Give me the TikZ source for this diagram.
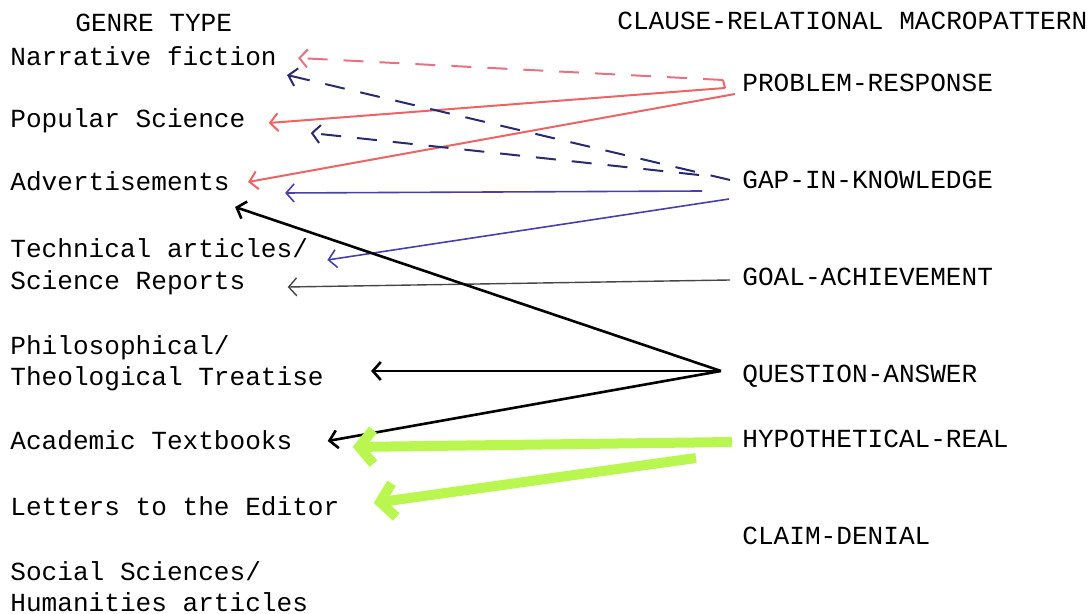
\documentclass[tikz,border=0pt]{standalone}
\usepackage{fontspec}
\setmonofont{Liberation Mono}
\usepackage{tikz}
\usetikzlibrary{calc,arrows.meta}

\definecolor{probred}{RGB}{238,100,100}
\definecolor{dashred}{RGB}{232,112,130}
\definecolor{gapnavy}{RGB}{42,42,112}
\definecolor{gapblue}{RGB}{72,62,172}
\definecolor{goalgray}{RGB}{70,70,70}
\definecolor{hyplime}{RGB}{185,246,80}

\begin{document}
\begin{tikzpicture}[x=0.5pt,y=-0.5pt,
    lbl/.style={anchor=west,inner sep=0pt,text height=9pt,text depth=0pt,
      font=\ttfamily\fontsize{13.05}{16}\selectfont},
    tip/.style={-{Straight Barb[length=4pt,width=9pt]}},
    fattip/.style={-{Straight Barb[length=7pt,width=17pt]}}]
          \useasboundingbox (0,0) rectangle (1092,614);
          % genre types
          \node[lbl] (genre) at (75,23) {GENRE TYPE};
          \node[lbl] (nf) at (10,57) {Narrative fiction};
          \node[lbl] (ps) at (10,119) {Popular Science};
          \node[lbl] (adv) at (10,182) {Advertisements};
          \node[lbl] (tech) at (10,249) {Technical articles/};
          \node[lbl] (sci) at (10,281) {Science Reports};
          \node[lbl] (phil) at (10,346) {Philosophical/};
          \node[lbl] (theo) at (10,377) {Theological Treatise};
          \node[lbl] (acad) at (10,441) {Academic Textbooks};
          \node[lbl] (let) at (10,506) {Letters to the Editor};
          \node[lbl] (soc) at (10,571) {Social Sciences/};
          \node[lbl] (hum) at (10,602) {Humanities articles};
          % macropatterns
          \node[lbl] (crm) at (617,21) {CLAUSE-RELATIONAL MACROPATTERN};
          \node[lbl] (pr) at (742,83) {PROBLEM-RESPONSE};
          \node[lbl] (gap) at (742,180) {GAP-IN-KNOWLEDGE};
          \node[lbl] (goal) at (742,277) {GOAL-ACHIEVEMENT};
          \node[lbl] (qa) at (742,374) {QUESTION-ANSWER};
          \node[lbl] (hr) at (742,439) {HYPOTHETICAL-REAL};
          \node[lbl] (cd) at (742,535) {CLAIM-DENIAL};
          % problem-response
          \draw[dashred,line width=1pt,dash pattern=on 10pt off 8pt,tip] ($(pr.west)+(-19,-3)$) -- ($(nf.east)+(21,1)$);
          \draw[probred,line width=1pt] ($(pr.west)+(-19,-3)$) -- ($(pr.west)+(-17,5)$);
          \draw[probred,line width=1pt,tip] ($(pr.west)+(-17,5)$) -- ($(ps.east)+(23,4)$);
          \draw[probred,line width=1pt,tip] ($(pr.west)+(-7,11)$) -- ($(adv.east)+(18,0)$);
          % gap-in-knowledge
          \draw[gapnavy,line width=1pt,dash pattern=on 10pt off 8pt,tip] ($(gap.west)+(-12,0)$) -- ($(nf.east)+(10,18)$);
          \draw[gapnavy,line width=1pt,dash pattern=on 10pt off 8pt,tip] ($(gap.west)+(-43,-5)$) -- ($(ps.east)+(65,14)$);
          \draw[gapblue,line width=0.8pt,tip] ($(gap.west)+(-40,11)$) -- ($(adv.east)+(55,11)$);
          \draw[gapblue,line width=0.8pt,tip] ($(gap.west)+(-13,19)$) -- ($(tech.east)+(19,11)$);
          % goal-achievement
          \draw[goalgray,line width=0.7pt,tip] ($(goal.west)+(-12,3)$) -- ($(sci.east)+(42,6)$);
          % question-answer
          \draw[black,line width=1.3pt,tip] ($(qa.west)+(-21,-3)$) -- ($(adv.east)+(5,25)$);
          \draw[black,line width=1.3pt,tip] ($(qa.west)+(-21,-3)$) -- ($(theo.east)+(47,-6)$);
          \draw[black,line width=1.3pt,tip] ($(qa.west)+(-21,-3)$) -- ($(acad.east)+(35,0)$);
          % hypothetical-real
          \draw[hyplime,line width=5pt,fattip] ($(hr.west)+(-10,3)$) -- ($(acad.east)+(60,6)$);
          \draw[hyplime,line width=5pt,fattip] ($(hr.west)+(-46,19)$) -- ($(let.east)+(34,-3)$);
        \end{tikzpicture}
\end{document}
